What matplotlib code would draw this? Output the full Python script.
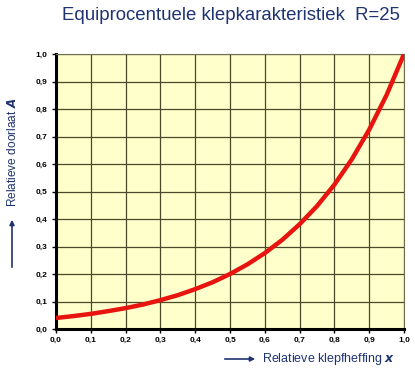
import matplotlib
matplotlib.use("Agg")
import matplotlib.pyplot as plt

x_vals = [0.0, 0.05, 0.1, 0.15, 0.2, 0.25, 0.3, 0.35, 0.4, 0.45, 0.5,
          0.55, 0.6, 0.65, 0.7, 0.75, 0.8, 0.85, 0.9, 0.95, 1.0]
a_vals = [0.040, 0.047, 0.055, 0.065, 0.076, 0.089, 0.105, 0.123, 0.145, 0.170, 0.200,
          0.235, 0.276, 0.324, 0.381, 0.447, 0.525, 0.617, 0.725, 0.851, 1.000]
tick_vals = [0.0, 0.1, 0.2, 0.3, 0.4, 0.5, 0.6, 0.7, 0.8, 0.9, 1.0]
tick_labels = ["0,0", "0,1", "0,2", "0,3", "0,4", "0,5", "0,6", "0,7", "0,8", "0,9", "1,0"]

plt.rcParams['font.family'] = ['Liberation Sans', 'DejaVu Sans']
W, H = 415, 369
fig = plt.figure(figsize=(W / 100, H / 100), dpi=100)
ax = fig.add_axes([56 / W, 1 - 329 / H, (404 - 56) / W, (329 - 54) / H])
ax.set_facecolor('#FFFFCC')
ax.plot(x_vals, a_vals, color='#E8140F', lw=3.2, solid_capstyle='butt', zorder=3)
ax.set_xlim(0, 1)
ax.set_ylim(0, 1)
ax.set_xticks(tick_vals)
ax.set_yticks(tick_vals)
ax.set_xticklabels(tick_labels, fontsize=6, fontweight='bold')
ax.set_yticklabels(tick_labels, fontsize=6, fontweight='bold')
ax.grid(True, color='#4A4A2A', lw=0.9)
ax.tick_params(length=3, width=1, color='black', pad=3)
for s in ['left', 'bottom']:
    ax.spines[s].set_linewidth(2.2)
    ax.spines[s].set_color('black')
for s in ['top', 'right']:
    ax.spines[s].set_linewidth(0.8)
    ax.spines[s].set_color('#6E6E50')

navy = '#1F3370'
fig.text(231 / W, 1 - 15 / H, "Equiprocentuele klepkarakteristiek  R=25",
         ha='center', va='center', fontsize=13.4, color=navy)
fig.text(262 / W, 1 - 359 / H, r"Relatieve klepfheffing $\boldsymbol{x}$",
         ha='left', va='center', fontsize=9, color=navy)
fig.text(12 / W, 1 - 152 / H, r"Relatieve doorlaat $\boldsymbol{A}$",
         ha='center', va='center', rotation=90, fontsize=8.6, color=navy)
fig.add_artist(matplotlib.patches.FancyArrowPatch(
    (222 / W, 1 - 359 / H), (258 / W, 1 - 359 / H), transform=fig.transFigure,
    arrowstyle='-|>', mutation_scale=7, color=navy, lw=1.2))
fig.add_artist(matplotlib.patches.FancyArrowPatch(
    (12 / W, 1 - 270 / H), (12 / W, 1 - 217 / H), transform=fig.transFigure,
    arrowstyle='-|>', mutation_scale=7, color=navy, lw=1.2))

fig.savefig("out.png", dpi=100, facecolor='white')
